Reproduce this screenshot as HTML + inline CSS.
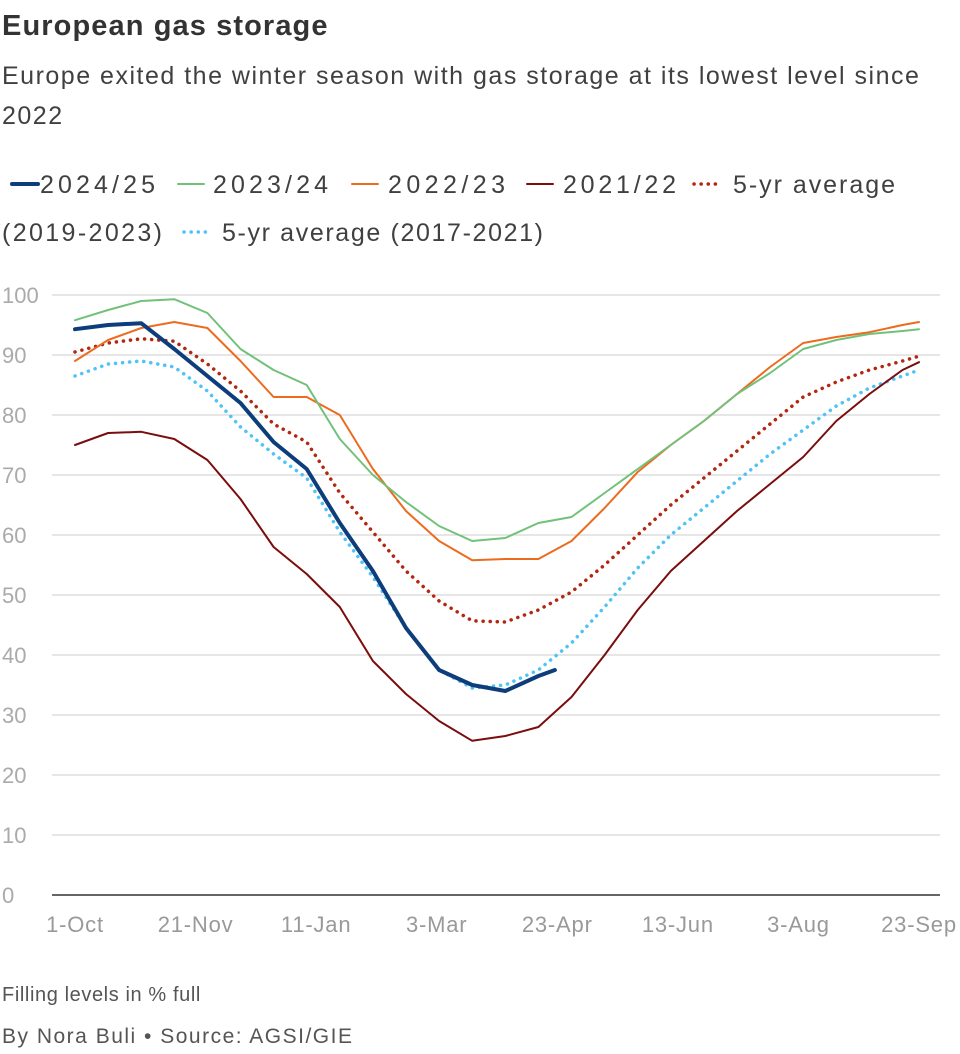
<!DOCTYPE html>
<html><head><meta charset="utf-8">
<style>
body{margin:0;width:960px;height:1054px;background:#fff;font-family:"Liberation Sans",sans-serif;overflow:hidden;position:relative}
.t{position:absolute;left:2px;white-space:nowrap}
</style></head><body>
<div class="t" style="top:10px;font-size:29px;font-weight:bold;color:#333;letter-spacing:1.1px">European gas storage</div>
<div class="t" style="top:56px;font-size:25px;color:#404040;line-height:40px;white-space:normal;width:948px;letter-spacing:1.5px">Europe exited the winter season with gas storage at its lowest level since 2022</div>
<svg width="960" height="1054" style="position:absolute;left:0;top:0" font-family="Liberation Sans, sans-serif">
<g id="legend" font-size="25" fill="#404040"></g>
<g id="grid"></g><g id="lines"></g><g id="xt" font-size="22" fill="#999" text-anchor="middle" letter-spacing="0.8"></g>
</svg>
<div class="t" style="top:984px;font-size:20px;color:#555;letter-spacing:0.6px">Filling levels in % full</div>
<div class="t" style="top:1025px;font-size:21px;color:#555;letter-spacing:1.5px">By Nora Buli • Source: AGSI/GIE</div>
<script>
const days=[0,14,28,42,56,70,84,98,112,126,140,154,168,182,196,210,224,238,252,266,280,294,308,322,336,350,357];
const s2425Days=[0,14,28,42,56,70,84,98,112,126,140,154,168,182,196,203];
const s2425=[94.3,95,95.3,91,86.5,82,75.5,71,62,54,44.5,37.5,35,34,36.5,37.5];
const s2324=[95.8,97.5,99,99.3,97,91,87.5,85,76,70,65.5,61.5,59,59.5,62,63,67,71,75,79,83.5,87,91,92.5,93.5,94,94.3];
const s2223=[89,92.5,94.5,95.5,94.5,89,83,83,80,71,64,59,55.8,56,56,59,64.5,70.5,75,79,83.5,88,92,93,93.8,95,95.5];
const s2122=[75,77,77.2,76,72.5,66,58,53.5,48,39,33.5,29,25.7,26.5,28,33,40,47.5,54,59,64,68.5,73,79,83.5,87.5,88.8];
const avg1923=[90.5,92,92.7,92.3,88.5,84,78.5,75.5,67,60.5,54,49,45.7,45.5,47.5,50.5,55,60,65,69.5,74,78.5,83,85.5,87.5,89,89.8];
const avg1721=[86.5,88.5,89,88,84,78,73.5,69.5,60.5,53,44.5,37.5,34.5,35,37.5,42,48,54.5,60,64.5,69,73.5,77.5,81.5,84.5,86.5,87.5];
const yTicks=[0,10,20,30,40,50,60,70,80,90,100];
const xTickDays=[0,51,102,153,204,255,306,357];
const xTickLabels=["1-Oct","21-Nov","11-Jan","3-Mar","23-Apr","13-Jun","3-Aug","23-Sep"];
const X=d=>75+d*(919-75)/357, Y=v=>895-v*6;
const NS="http://www.w3.org/2000/svg";
function mk(t,a,p){const e=document.createElementNS(NS,t);for(const k in a)e.setAttribute(k,a[k]);p.appendChild(e);return e;}
const grid=document.getElementById('grid');
yTicks.forEach(v=>{
 const l=mk('line',{x1:52,x2:940,y1:Y(v),y2:Y(v),stroke:v===0?'#333':'#ccc','stroke-width':v===0?1.5:1},grid);
 
 
 const t=mk('text',{x:2,y:Y(v)+8,'font-size':22,fill:'#aaa'},grid);t.textContent=v;
 
 
});
const xt=document.getElementById('xt');
xTickDays.forEach((d,i)=>{
 const t=mk('text',{x:X(d),y:932},xt);t.textContent=xTickLabels[i];
 
 
});
const series=[
 {n:'avg-2017-2021',d:days,v:avg1721,c:'#4fc3f7',w:3.5,dash:'0.1 7'},
 {n:'avg-2019-2023',d:days,v:avg1923,c:'#b3260f',w:3.5,dash:'0.1 7'},
 {n:'series-2021-22',d:days,v:s2122,c:'#7a0d0d',w:2},
 {n:'series-2022-23',d:days,v:s2223,c:'#ec6b1f',w:2},
 {n:'series-2023-24',d:days,v:s2324,c:'#72c17a',w:2},
 {n:'series-2024-25',d:s2425Days,v:s2425,c:'#0d3d7a',w:4}
];
const lines=document.getElementById('lines');
series.forEach(s=>{
 const pts=s.v.map((v,i)=>X(s.d[i]).toFixed(1)+','+Y(v).toFixed(1)).join(' ');
 const a={points:pts,fill:'none',stroke:s.c,'stroke-width':s.w,'stroke-linejoin':'round','stroke-linecap':'round'};
 if(s.dash)a['stroke-dasharray']=s.dash;
 const p=mk('polyline',a,lines);
 
 
});
const lg=document.getElementById('legend');
// label, color, width, dash, lineX, textX, textLen, y
const items=[['2024/25','#0d3d7a',4,null,12,40,115,193],['2023/24','#72c17a',2,null,178,213,115,193],['2022/23','#ec6b1f',2,null,352,388,117,193],['2021/22','#7a0d0d',2,null,527,563,113,193],['5-yr average','#b3260f',3.5,'0.1 7',694,733,162,193],['(2019-2023)',null,0,null,0,2,160,241],['5-yr average (2017-2021)','#4fc3f7',3.5,'0.1 7',184,222,321,241]];
items.forEach(it=>{
 if(it[1]){const a={x1:it[4],x2:it[4]+26,y1:it[7]-9,y2:it[7]-9,stroke:it[1],'stroke-width':it[2],'stroke-linecap':'round'};if(it[3])a['stroke-dasharray']=it[3];mk('line',a,lg);}
 const t=mk('text',{x:it[5],y:it[7],textLength:it[6],lengthAdjust:'spacing'},lg);t.textContent=it[0];
 
 
});
</script>
</body></html>
